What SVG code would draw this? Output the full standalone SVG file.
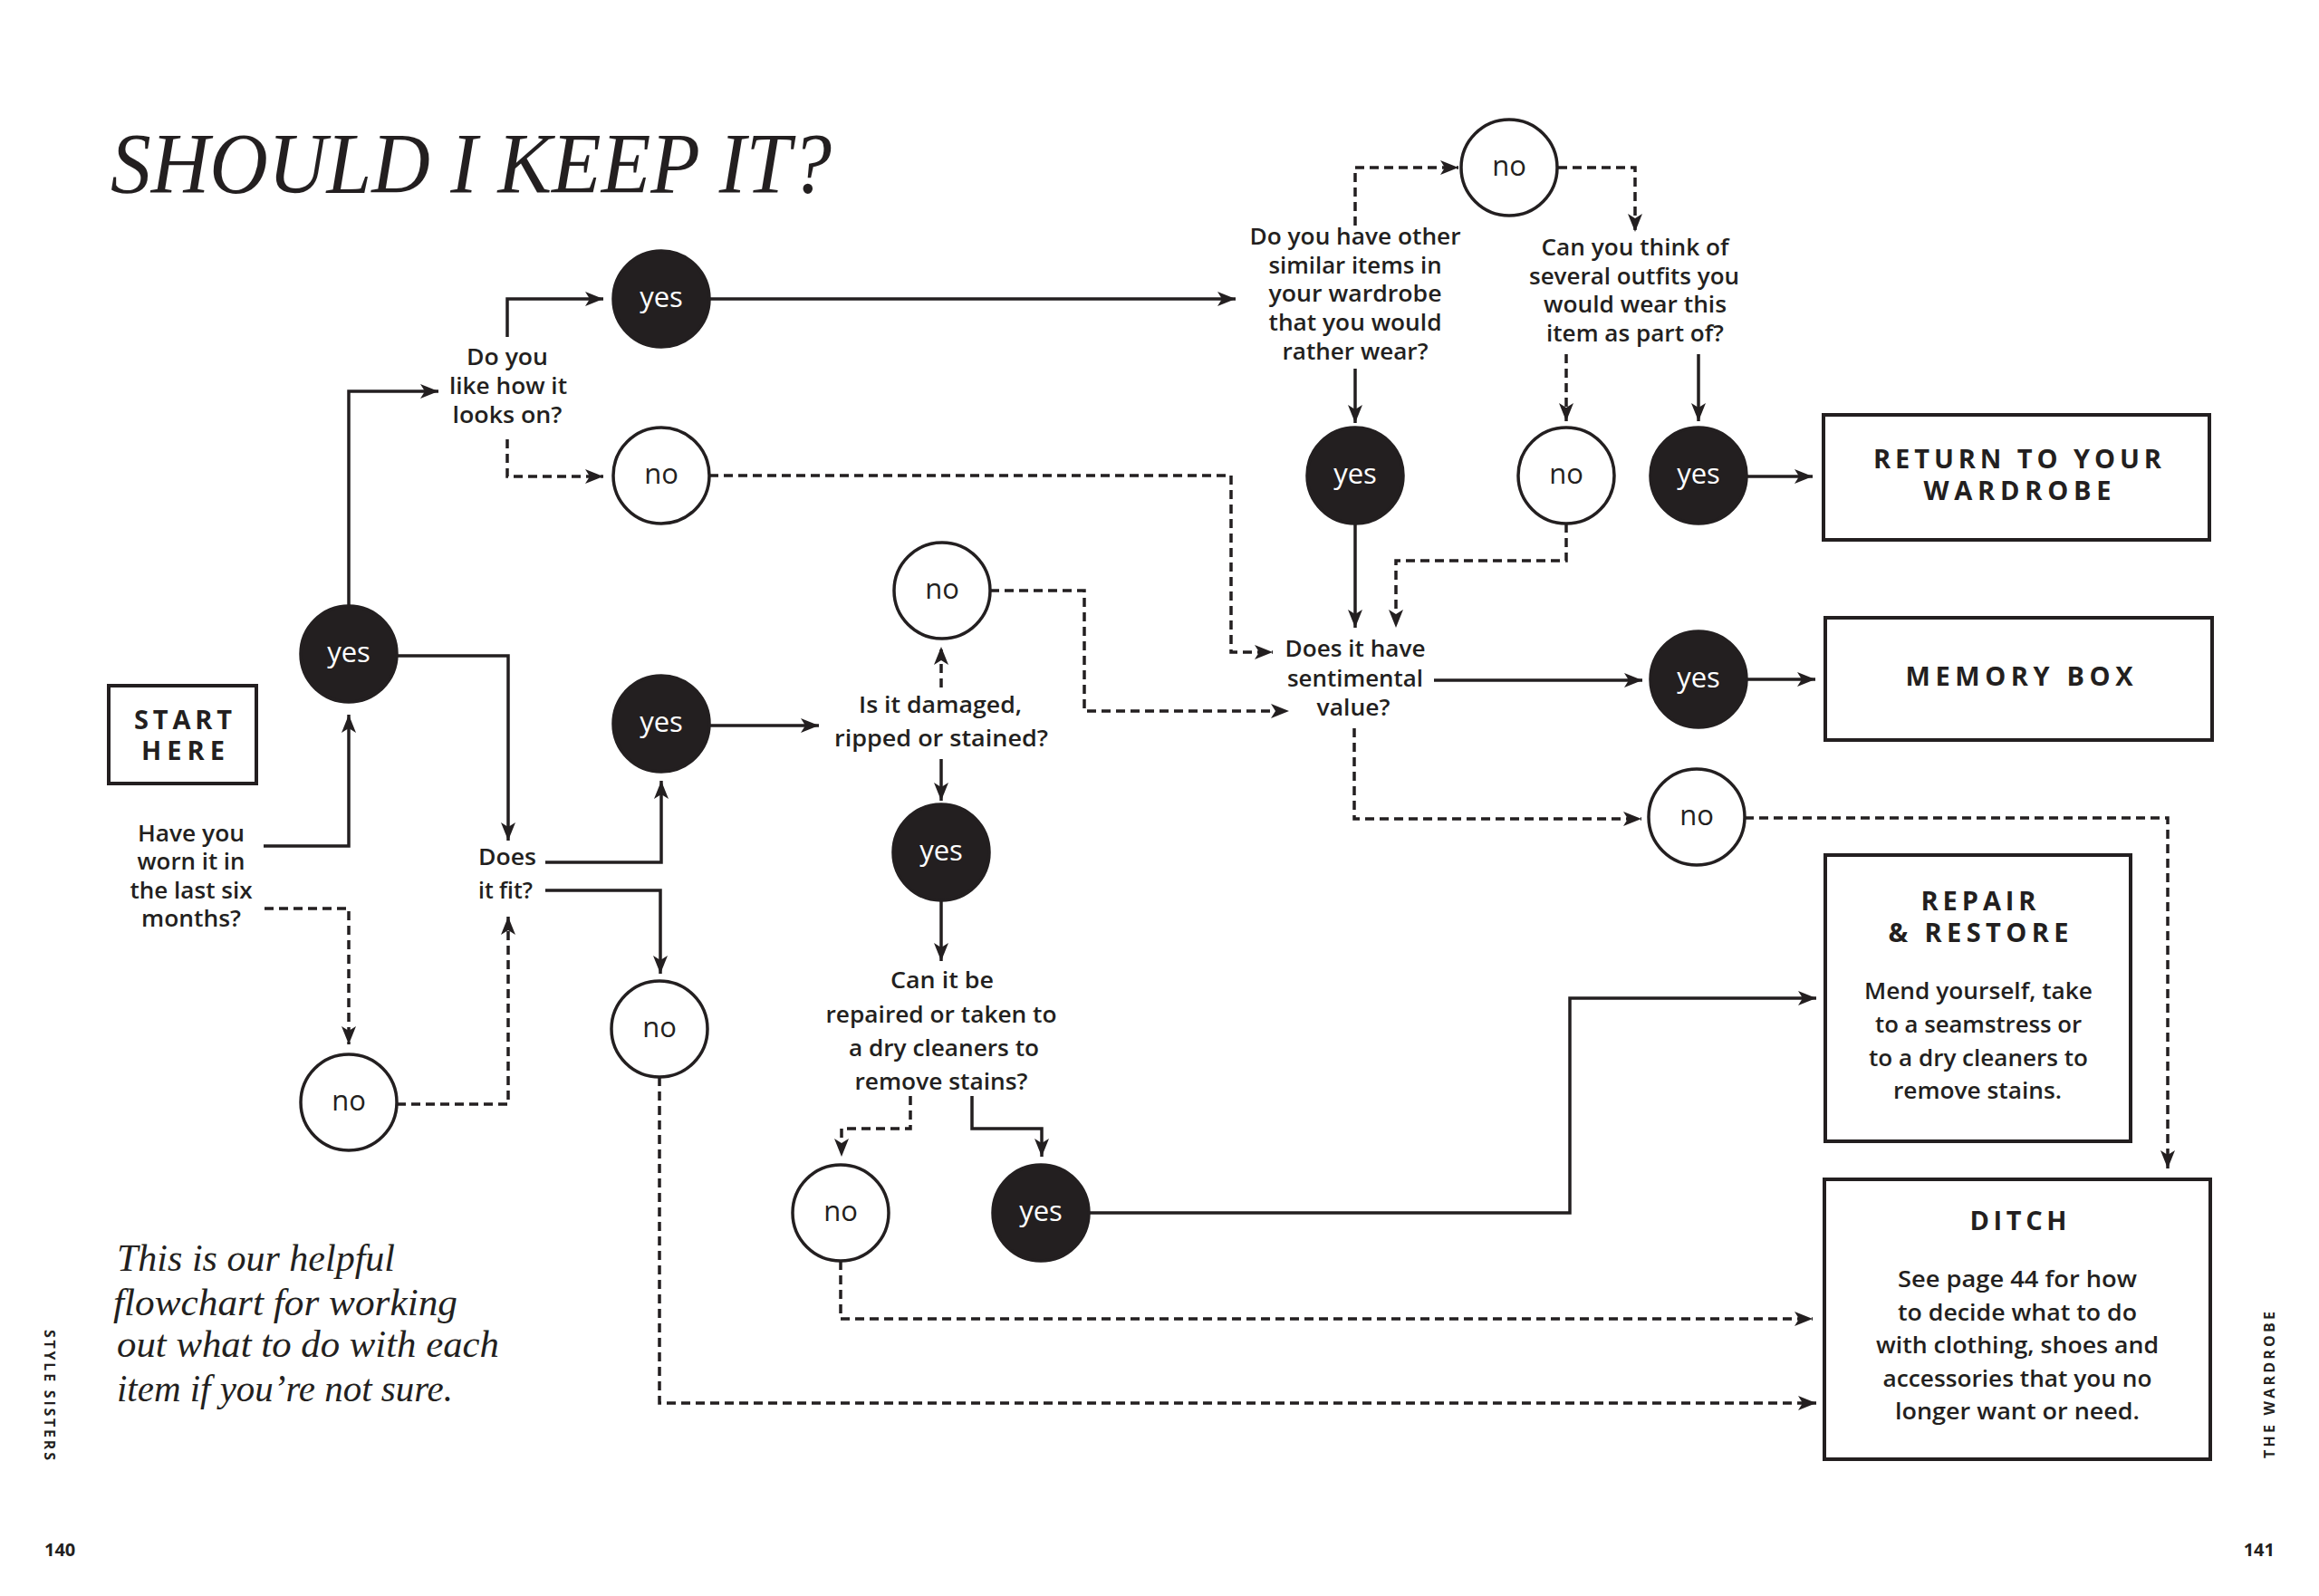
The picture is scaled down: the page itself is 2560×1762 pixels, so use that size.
<svg xmlns="http://www.w3.org/2000/svg" width="2560" height="1762" viewBox="0 0 2560 1762">
<style>
.bg{fill:#ffffff}
.dark{fill:#231f20;stroke:#231f20;stroke-width:3.5}
.light{fill:#ffffff;stroke:#231f20;stroke-width:3.5}
.box{fill:#ffffff;stroke:#231f20;stroke-width:4}
.ly{font-family:"Open Sans","Liberation Sans",sans-serif;font-size:31px;fill:#ffffff;text-anchor:middle}
.ln{font-family:"Open Sans","Liberation Sans",sans-serif;font-size:31px;fill:#231f20;text-anchor:middle}
.lbl{font-family:"Open Sans","Liberation Sans",sans-serif;font-size:26px;font-weight:600;fill:#231f20;text-anchor:middle}
.hd{font-family:"Open Sans","Liberation Sans",sans-serif;font-size:29px;font-weight:700;fill:#231f20;text-anchor:middle}
.side{font-family:"Open Sans","Liberation Sans",sans-serif;font-size:16px;font-weight:700;fill:#231f20}
.pg{font-family:"Open Sans","Liberation Sans",sans-serif;font-size:20px;font-weight:700;fill:#231f20}
.title{font-family:"Liberation Serif","DejaVu Serif",serif;font-style:italic;font-size:96px;fill:#231f20}
.intro{font-family:"Liberation Serif","DejaVu Serif",serif;font-style:italic;font-size:42px;fill:#231f20}
.sol{fill:none;stroke:#231f20;stroke-width:3.5;marker-end:url(#ah)}
.dsh{fill:none;stroke:#231f20;stroke-width:3.5;stroke-dasharray:10 6;marker-end:url(#ah)}
</style>
<defs>
<marker id="ah" markerUnits="userSpaceOnUse" markerWidth="22" markerHeight="18" refX="20" refY="8" orient="auto">
<path d="M0,0 L20,8 L0,16 L5,8 Z" fill="#231f20"/>
</marker>
</defs>
<rect class="bg" x="0" y="0" width="2560" height="1762"/>

<text class="title" x="122" y="213" textLength="796" lengthAdjust="spacingAndGlyphs">SHOULD I KEEP IT?</text>

<g id="intro">
<text class="intro" x="129" y="1403" textLength="307" lengthAdjust="spacingAndGlyphs">This is our helpful</text>
<text class="intro" x="125" y="1452" textLength="380" lengthAdjust="spacingAndGlyphs">flowchart for working</text>
<text class="intro" x="129" y="1498" textLength="422" lengthAdjust="spacingAndGlyphs">out what to do with each</text>
<text class="intro" x="129" y="1547" textLength="371" lengthAdjust="spacingAndGlyphs">item if you’re not sure.</text>
</g>

<g id="connectors">
<path class="sol" d="M291,934 H385 V789"/>
<path class="sol" d="M438,724 H561 V928"/>
<path class="sol" d="M385,669 V432 H484"/>
<path class="sol" d="M560,372 V330 H666"/>
<path class="sol" d="M783,330 H1364"/>
<path class="sol" d="M602,952 H730 V862"/>
<path class="sol" d="M602,983 H729 V1075"/>
<path class="sol" d="M783,801 H904"/>
<path class="sol" d="M1039,838 V884"/>
<path class="sol" d="M1039,994 V1061"/>
<path class="sol" d="M1073,1210 V1246 H1150 V1277"/>
<path class="sol" d="M1202,1339 H1733 V1102 H2005"/>
<path class="sol" d="M1496,407 V467"/>
<path class="sol" d="M1875,391 V465"/>
<path class="sol" d="M1928,526 H2001"/>
<path class="sol" d="M1496,578 V693"/>
<path class="sol" d="M1583,751 H1813"/>
<path class="sol" d="M1928,750 H2004"/>

<path class="dsh" d="M292,1003 H385 V1153"/>
<path class="dsh" d="M438,1219 H561 V1012"/>
<path class="dsh" d="M560,485 V526 H666"/>
<path class="dsh" d="M783,525 H1359 V720 H1405"/>
<path class="dsh" d="M1039,759 V714"/>
<path class="dsh" d="M1093,652 H1197 V785 H1423"/>
<path class="dsh" d="M1005,1210 V1246 H929 V1277"/>
<path class="dsh" d="M928,1392 V1456 H2001"/>
<path class="dsh" d="M728,1189 V1549 H2005"/>
<path class="dsh" d="M1496,249 V185 H1610"/>
<path class="dsh" d="M1720,185 H1805 V256"/>
<path class="dsh" d="M1729,391 V465"/>
<path class="dsh" d="M1729,578 V619 H1541 V693"/>
<path class="dsh" d="M1495,804 V904 H1812"/>
<path class="dsh" d="M1926,903 H2393 V1290"/>
</g>

<g id="start">
<rect class="box" x="120" y="757" width="163" height="108"/>
<text class="hd" x="202" y="805" font-size="30" textLength="108" lengthAdjust="spacing">START</text>
<text class="hd" x="202" y="839" font-size="30" textLength="92" lengthAdjust="spacing">HERE</text>
</g>

<g id="q-worn">
<text class="lbl" x="211" y="929" textLength="118" lengthAdjust="spacingAndGlyphs">Have you</text>
<text class="lbl" x="211" y="960" textLength="119" lengthAdjust="spacingAndGlyphs">worn it in</text>
<text class="lbl" x="211" y="992" textLength="135" lengthAdjust="spacingAndGlyphs">the last six</text>
<text class="lbl" x="211" y="1023" textLength="110" lengthAdjust="spacingAndGlyphs">months?</text>
</g>

<g id="q-looks">
<text class="lbl" x="560" y="403" textLength="90" lengthAdjust="spacingAndGlyphs">Do you</text>
<text class="lbl" x="561" y="435" textLength="130" lengthAdjust="spacingAndGlyphs">like how it</text>
<text class="lbl" x="560" y="467" textLength="121" lengthAdjust="spacingAndGlyphs">looks on?</text>
</g>

<g id="q-fit">
<text class="lbl" x="560" y="955" textLength="64" lengthAdjust="spacingAndGlyphs">Does</text>
<text class="lbl" x="558" y="992" textLength="60" lengthAdjust="spacingAndGlyphs">it fit?</text>
</g>

<g id="q-damaged">
<text class="lbl" x="1038" y="787" textLength="180" lengthAdjust="spacingAndGlyphs">Is it damaged,</text>
<text class="lbl" x="1039" y="824" textLength="236" lengthAdjust="spacingAndGlyphs">ripped or stained?</text>
</g>

<g id="q-repair">
<text class="lbl" x="1040" y="1091" textLength="114" lengthAdjust="spacingAndGlyphs">Can it be</text>
<text class="lbl" x="1039" y="1129" textLength="255" lengthAdjust="spacingAndGlyphs">repaired or taken to</text>
<text class="lbl" x="1042" y="1166" textLength="210" lengthAdjust="spacingAndGlyphs">a dry cleaners to</text>
<text class="lbl" x="1039" y="1203" textLength="191" lengthAdjust="spacingAndGlyphs">remove stains?</text>
</g>

<g id="q-similar">
<text class="lbl" x="1496" y="270" textLength="233" lengthAdjust="spacingAndGlyphs">Do you have other</text>
<text class="lbl" x="1496" y="302" textLength="191" lengthAdjust="spacingAndGlyphs">similar items in</text>
<text class="lbl" x="1496" y="333" textLength="191" lengthAdjust="spacingAndGlyphs">your wardrobe</text>
<text class="lbl" x="1496" y="365" textLength="191" lengthAdjust="spacingAndGlyphs">that you would</text>
<text class="lbl" x="1496" y="397" textLength="161" lengthAdjust="spacingAndGlyphs">rather wear?</text>
</g>

<g id="q-outfits">
<text class="lbl" x="1805" y="282" textLength="207" lengthAdjust="spacingAndGlyphs">Can you think of</text>
<text class="lbl" x="1804" y="314" textLength="232" lengthAdjust="spacingAndGlyphs">several outfits you</text>
<text class="lbl" x="1805" y="345" textLength="202" lengthAdjust="spacingAndGlyphs">would wear this</text>
<text class="lbl" x="1805" y="377" textLength="196" lengthAdjust="spacingAndGlyphs">item as part of?</text>
</g>

<g id="q-sentimental">
<text class="lbl" x="1496" y="725" textLength="155" lengthAdjust="spacingAndGlyphs">Does it have</text>
<text class="lbl" x="1496" y="758" textLength="150" lengthAdjust="spacingAndGlyphs">sentimental</text>
<text class="lbl" x="1494" y="790" textLength="81" lengthAdjust="spacingAndGlyphs">value?</text>
</g>

<g id="n1"><circle class="dark" cx="730" cy="330" r="53"/><text class="ly" x="730" y="339">yes</text></g>
<g id="n2"><circle class="light" cx="730" cy="525" r="53"/><text class="ln" x="730" y="534">no</text></g>
<g id="n3"><circle class="dark" cx="385" cy="722" r="53"/><text class="ly" x="385" y="731">yes</text></g>
<g id="n4"><circle class="light" cx="385" cy="1217" r="53"/><text class="ln" x="385" y="1226">no</text></g>
<g id="n5"><circle class="dark" cx="730" cy="799" r="53"/><text class="ly" x="730" y="808">yes</text></g>
<g id="n6"><circle class="light" cx="728" cy="1136" r="53"/><text class="ln" x="728" y="1145">no</text></g>
<g id="n7"><circle class="light" cx="1040" cy="652" r="53"/><text class="ln" x="1040" y="661">no</text></g>
<g id="n8"><circle class="dark" cx="1039" cy="941" r="53"/><text class="ly" x="1039" y="950">yes</text></g>
<g id="n9"><circle class="light" cx="928" cy="1339" r="53"/><text class="ln" x="928" y="1348">no</text></g>
<g id="n10"><circle class="dark" cx="1149" cy="1339" r="53"/><text class="ly" x="1149" y="1348">yes</text></g>
<g id="n11"><circle class="light" cx="1666" cy="185" r="53"/><text class="ln" x="1666" y="194">no</text></g>
<g id="n12"><circle class="dark" cx="1496" cy="525" r="53"/><text class="ly" x="1496" y="534">yes</text></g>
<g id="n13"><circle class="light" cx="1729" cy="525" r="53"/><text class="ln" x="1729" y="534">no</text></g>
<g id="n14"><circle class="dark" cx="1875" cy="525" r="53"/><text class="ly" x="1875" y="534">yes</text></g>
<g id="n15"><circle class="dark" cx="1875" cy="750" r="53"/><text class="ly" x="1875" y="759">yes</text></g>
<g id="n16"><circle class="light" cx="1873" cy="902" r="53"/><text class="ln" x="1873" y="911">no</text></g>

<g id="return">
<rect class="box" x="2013" y="458" width="426" height="138"/>
<text class="hd" x="2227" y="517" textLength="318" lengthAdjust="spacing">RETURN TO YOUR</text>
<text class="hd" x="2227" y="552" textLength="207" lengthAdjust="spacing">WARDROBE</text>
</g>

<g id="memory">
<rect class="box" x="2015" y="682" width="427" height="135"/>
<text class="hd" x="2229" y="757" textLength="251" lengthAdjust="spacing">MEMORY BOX</text>
</g>

<g id="repair">
<rect class="box" x="2015" y="944" width="337" height="316"/>
<text class="hd" x="2184" y="1005" textLength="127" lengthAdjust="spacing">REPAIR</text>
<text class="hd" x="2184" y="1040" textLength="199" lengthAdjust="spacing">&amp; RESTORE</text>
<text class="lbl" x="2184" y="1103" textLength="252" lengthAdjust="spacingAndGlyphs">Mend yourself, take</text>
<text class="lbl" x="2184" y="1140" textLength="228" lengthAdjust="spacingAndGlyphs">to a seamstress or</text>
<text class="lbl" x="2184" y="1177" textLength="242" lengthAdjust="spacingAndGlyphs">to a dry cleaners to</text>
<text class="lbl" x="2183" y="1213" textLength="186" lengthAdjust="spacingAndGlyphs">remove stains.</text>
</g>

<g id="ditch">
<rect class="box" x="2014" y="1302" width="426" height="309"/>
<text class="hd" x="2228" y="1358" textLength="107" lengthAdjust="spacing">DITCH</text>
<text class="lbl" x="2227" y="1421" textLength="264" lengthAdjust="spacingAndGlyphs">See page 44 for how</text>
<text class="lbl" x="2227" y="1458" textLength="264" lengthAdjust="spacingAndGlyphs">to decide what to do</text>
<text class="lbl" x="2227" y="1494" textLength="312" lengthAdjust="spacingAndGlyphs">with clothing, shoes and</text>
<text class="lbl" x="2227" y="1531" textLength="297" lengthAdjust="spacingAndGlyphs">accessories that you no</text>
<text class="lbl" x="2227" y="1567" textLength="270" lengthAdjust="spacingAndGlyphs">longer want or need.</text>
</g>

<text class="side" transform="translate(49,1468) rotate(90)" x="0" y="0" textLength="144" lengthAdjust="spacing">STYLE SISTERS</text>
<text class="side" transform="translate(2511,1610) rotate(-90)" x="0" y="0" textLength="162" lengthAdjust="spacing">THE WARDROBE</text>
<text class="pg" x="49" y="1718">140</text>
<text class="pg" x="2511" y="1718" text-anchor="end">141</text>
</svg>
